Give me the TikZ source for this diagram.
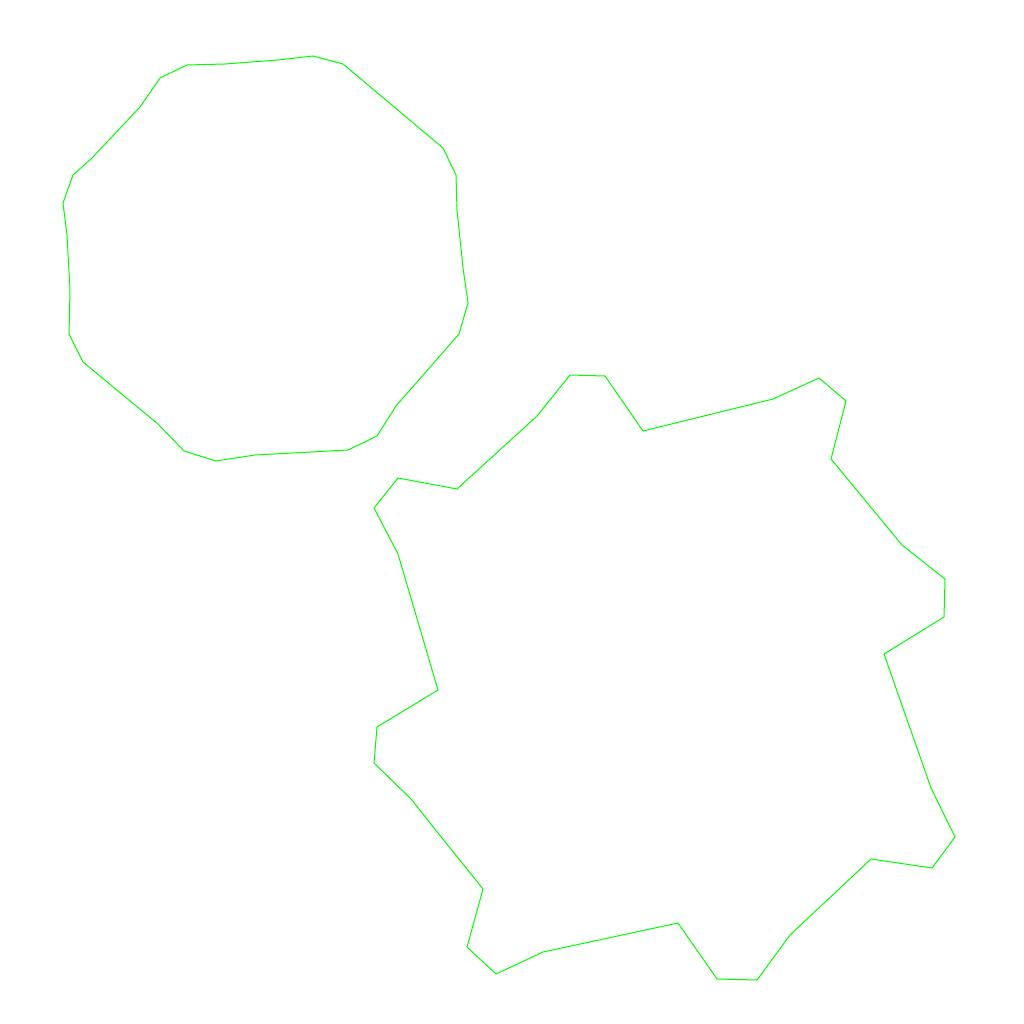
\documentclass[tikz,border=0pt]{standalone}
\definecolor{pgreen}{RGB}{0,255,0}
\begin{document}
\begin{tikzpicture}[x=1pt,y=-1pt,poly/.style={draw=pgreen,line width=1pt,line join=miter}]
\useasboundingbox (0,0) rectangle (1024,1024);
\draw[poly] (187,65) -- (225,64) -- (278,60) -- (313,56) -- (343,64) -- (443,148) -- (456,175) -- (457,210) -- (463,268) -- (468,303) -- (459,334) -- (396,406) -- (377,436) -- (348,450) -- (255,455) -- (216,461) -- (184,451) -- (158,424) -- (83,362) -- (69,334) -- (70,290) -- (67,235) -- (63,203) -- (73,175) -- (92,158) -- (140,107) -- (160,78) -- cycle;
\draw[poly] (570,375) -- (605,376) -- (643,431) -- (773,399) -- (819,378) -- (846,401) -- (831,459) -- (902,545) -- (945,579) -- (944,617) -- (884,654) -- (931,788) -- (955,837) -- (932,868) -- (871,859) -- (790,935) -- (757,980) -- (717,979) -- (678,923) -- (543,952) -- (496,974) -- (467,947) -- (483,889) -- (442,838) -- (411,799) -- (374,763) -- (377,727) -- (438,690) -- (398,554) -- (374,508) -- (398,478) -- (457,489) -- (537,416) -- cycle;
\end{tikzpicture}
\end{document}
